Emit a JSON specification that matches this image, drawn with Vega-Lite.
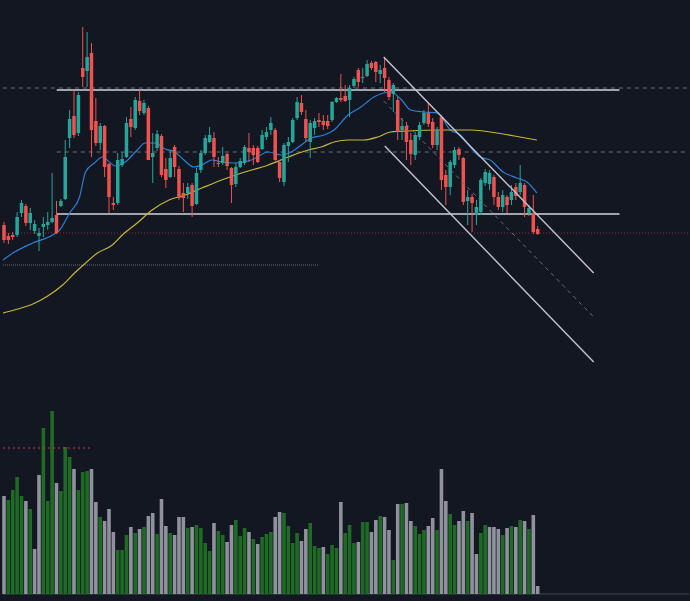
{
  "$schema": "https://vega.github.io/schema/vega-lite/v6.json",
  "width": 690,
  "height": 601,
  "autosize": {"type": "fit", "contains": "padding"},
  "padding": 0,
  "background": "#131722",
  "config": {"view": {"stroke": null}},
  "resolve": {"scale": {"y": "independent"}},
  "datasets": {
    "candles": [
      {"i":0,"o":376,"h":379,"l":358,"c":361,"v":98,"u":0},
      {"i":1,"o":365,"h":368,"l":357,"c":361,"v":94,"u":1},
      {"i":2,"o":366,"h":369,"l":361,"c":364,"v":104,"u":1},
      {"i":3,"o":366,"h":389,"l":364,"c":384,"v":117,"u":1},
      {"i":4,"o":388,"h":401,"l":384,"c":398,"v":98,"u":1},
      {"i":5,"o":395,"h":397,"l":375,"c":378,"v":93,"u":0},
      {"i":6,"o":378,"h":393,"l":371,"c":388,"v":85,"u":1},
      {"i":7,"o":370,"h":381,"l":367,"c":377,"v":45,"u":0},
      {"i":8,"o":365,"h":373,"l":350,"c":368,"v":119,"u":0},
      {"i":9,"o":374,"h":384,"l":364,"c":377,"v":166,"u":1},
      {"i":10,"o":376,"h":389,"l":371,"c":379,"v":93,"u":1},
      {"i":11,"o":379,"h":428,"l":378,"c":383,"v":183,"u":1},
      {"i":12,"o":386,"h":400,"l":367,"c":368,"v":111,"u":0},
      {"i":13,"o":395,"h":402,"l":394,"c":400,"v":103,"u":1},
      {"i":14,"o":402,"h":461,"l":401,"c":444,"v":147,"u":1},
      {"i":15,"o":463,"h":491,"l":453,"c":482,"v":137,"u":1},
      {"i":16,"o":485,"h":511,"l":463,"c":466,"v":125,"u":0},
      {"i":17,"o":468,"h":509,"l":465,"c":506,"v":104,"u":1},
      {"i":18,"o":533,"h":574,"l":514,"c":524,"v":122,"u":1},
      {"i":19,"o":530,"h":569,"l":514,"c":544,"v":123,"u":1},
      {"i":20,"o":548,"h":558,"l":444,"c":471,"v":125,"u":0},
      {"i":21,"o":480,"h":503,"l":455,"c":458,"v":92,"u":0},
      {"i":22,"o":458,"h":478,"l":451,"c":475,"v":77,"u":1},
      {"i":23,"o":475,"h":476,"l":424,"c":434,"v":73,"u":0},
      {"i":24,"o":437,"h":438,"l":388,"c":404,"v":85,"u":0},
      {"i":25,"o":398,"h":404,"l":391,"c":396,"v":62,"u":0},
      {"i":26,"o":398,"h":448,"l":396,"c":441,"v":44,"u":1},
      {"i":27,"o":436,"h":449,"l":434,"c":442,"v":44,"u":1},
      {"i":28,"o":444,"h":484,"l":443,"c":478,"v":59,"u":1},
      {"i":29,"o":482,"h":494,"l":464,"c":474,"v":67,"u":0},
      {"i":30,"o":473,"h":504,"l":471,"c":501,"v":61,"u":1},
      {"i":31,"o":500,"h":511,"l":486,"c":490,"v":65,"u":0},
      {"i":32,"o":488,"h":501,"l":486,"c":498,"v":67,"u":1},
      {"i":33,"o":493,"h":495,"l":441,"c":441,"v":78,"u":0},
      {"i":34,"o":444,"h":468,"l":418,"c":448,"v":81,"u":0},
      {"i":35,"o":453,"h":471,"l":450,"c":467,"v":60,"u":1},
      {"i":36,"o":465,"h":467,"l":424,"c":426,"v":95,"u":0},
      {"i":37,"o":432,"h":443,"l":413,"c":421,"v":68,"u":0},
      {"i":38,"o":424,"h":451,"l":423,"c":443,"v":61,"u":1},
      {"i":39,"o":454,"h":456,"l":424,"c":434,"v":59,"u":0},
      {"i":40,"o":432,"h":435,"l":401,"c":403,"v":77,"u":0},
      {"i":41,"o":408,"h":418,"l":389,"c":403,"v":77,"u":0},
      {"i":42,"o":408,"h":418,"l":402,"c":414,"v":66,"u":1},
      {"i":43,"o":416,"h":418,"l":384,"c":395,"v":67,"u":0},
      {"i":44,"o":397,"h":433,"l":396,"c":428,"v":69,"u":1},
      {"i":45,"o":431,"h":451,"l":428,"c":448,"v":66,"u":1},
      {"i":46,"o":448,"h":466,"l":446,"c":463,"v":51,"u":1},
      {"i":47,"o":459,"h":474,"l":458,"c":466,"v":43,"u":1},
      {"i":48,"o":463,"h":469,"l":434,"c":444,"v":71,"u":0},
      {"i":49,"o":438,"h":444,"l":434,"c":437,"v":63,"u":1},
      {"i":50,"o":438,"h":454,"l":436,"c":445,"v":59,"u":1},
      {"i":51,"o":447,"h":448,"l":431,"c":435,"v":52,"u":0},
      {"i":52,"o":433,"h":434,"l":398,"c":416,"v":69,"u":0},
      {"i":53,"o":417,"h":438,"l":414,"c":434,"v":74,"u":1},
      {"i":54,"o":434,"h":443,"l":433,"c":440,"v":58,"u":1},
      {"i":55,"o":438,"h":456,"l":436,"c":454,"v":66,"u":1},
      {"i":56,"o":453,"h":468,"l":439,"c":449,"v":62,"u":0},
      {"i":57,"o":453,"h":456,"l":436,"c":446,"v":55,"u":1},
      {"i":58,"o":453,"h":455,"l":438,"c":439,"v":50,"u":0},
      {"i":59,"o":452,"h":471,"l":451,"c":466,"v":57,"u":1},
      {"i":60,"o":464,"h":474,"l":461,"c":469,"v":60,"u":1},
      {"i":61,"o":471,"h":484,"l":466,"c":478,"v":62,"u":1},
      {"i":62,"o":471,"h":473,"l":440,"c":441,"v":77,"u":0},
      {"i":63,"o":439,"h":441,"l":419,"c":423,"v":82,"u":0},
      {"i":64,"o":419,"h":458,"l":415,"c":456,"v":81,"u":1},
      {"i":65,"o":455,"h":464,"l":439,"c":459,"v":68,"u":1},
      {"i":66,"o":459,"h":483,"l":458,"c":481,"v":51,"u":1},
      {"i":67,"o":483,"h":504,"l":481,"c":499,"v":61,"u":1},
      {"i":68,"o":498,"h":506,"l":486,"c":489,"v":53,"u":0},
      {"i":69,"o":482,"h":491,"l":459,"c":463,"v":65,"u":0},
      {"i":70,"o":459,"h":481,"l":443,"c":478,"v":71,"u":1},
      {"i":71,"o":473,"h":483,"l":466,"c":480,"v":48,"u":1},
      {"i":72,"o":481,"h":488,"l":474,"c":479,"v":46,"u":1},
      {"i":73,"o":480,"h":486,"l":471,"c":476,"v":47,"u":0},
      {"i":74,"o":480,"h":486,"l":472,"c":475,"v":40,"u":1},
      {"i":75,"o":481,"h":500,"l":479,"c":499,"v":49,"u":1},
      {"i":76,"o":499,"h":504,"l":498,"c":503,"v":46,"u":1},
      {"i":77,"o":503,"h":527,"l":499,"c":501,"v":92,"u":0},
      {"i":78,"o":505,"h":516,"l":499,"c":500,"v":61,"u":1},
      {"i":79,"o":501,"h":516,"l":484,"c":513,"v":69,"u":1},
      {"i":80,"o":515,"h":524,"l":513,"c":522,"v":51,"u":1},
      {"i":81,"o":531,"h":533,"l":514,"c":519,"v":52,"u":0},
      {"i":82,"o":523,"h":533,"l":518,"c":524,"v":72,"u":1},
      {"i":83,"o":525,"h":541,"l":524,"c":537,"v":72,"u":1},
      {"i":84,"o":538,"h":540,"l":531,"c":533,"v":62,"u":0},
      {"i":85,"o":539,"h":540,"l":519,"c":529,"v":74,"u":0},
      {"i":86,"o":527,"h":536,"l":518,"c":531,"v":78,"u":1},
      {"i":87,"o":533,"h":544,"l":509,"c":523,"v":77,"u":0},
      {"i":88,"o":521,"h":524,"l":501,"c":504,"v":64,"u":0},
      {"i":89,"o":507,"h":518,"l":489,"c":516,"v":34,"u":1},
      {"i":90,"o":501,"h":504,"l":461,"c":469,"v":90,"u":0},
      {"i":91,"o":471,"h":483,"l":461,"c":475,"v":90,"u":1},
      {"i":92,"o":475,"h":479,"l":441,"c":459,"v":91,"u":0},
      {"i":93,"o":461,"h":468,"l":436,"c":447,"v":73,"u":0},
      {"i":94,"o":446,"h":469,"l":441,"c":466,"v":68,"u":1},
      {"i":95,"o":464,"h":479,"l":461,"c":476,"v":60,"u":1},
      {"i":96,"o":478,"h":491,"l":476,"c":488,"v":64,"u":1},
      {"i":97,"o":488,"h":498,"l":474,"c":477,"v":68,"u":0},
      {"i":98,"o":479,"h":483,"l":453,"c":456,"v":76,"u":0},
      {"i":99,"o":456,"h":474,"l":451,"c":471,"v":64,"u":1},
      {"i":100,"o":484,"h":486,"l":411,"c":421,"v":125,"u":0},
      {"i":101,"o":426,"h":431,"l":396,"c":414,"v":93,"u":0},
      {"i":102,"o":414,"h":441,"l":406,"c":439,"v":80,"u":1},
      {"i":103,"o":436,"h":454,"l":433,"c":451,"v":69,"u":1},
      {"i":104,"o":452,"h":454,"l":441,"c":446,"v":73,"u":0},
      {"i":105,"o":443,"h":444,"l":396,"c":399,"v":83,"u":0},
      {"i":106,"o":400,"h":411,"l":376,"c":404,"v":73,"u":1},
      {"i":107,"o":404,"h":407,"l":369,"c":398,"v":81,"u":0},
      {"i":108,"o":386,"h":401,"l":376,"c":394,"v":40,"u":0},
      {"i":109,"o":389,"h":423,"l":386,"c":421,"v":61,"u":1},
      {"i":110,"o":418,"h":432,"l":415,"c":429,"v":69,"u":1},
      {"i":111,"o":417,"h":431,"l":411,"c":428,"v":67,"u":0},
      {"i":112,"o":424,"h":426,"l":396,"c":404,"v":67,"u":0},
      {"i":113,"o":404,"h":409,"l":391,"c":394,"v":65,"u":0},
      {"i":114,"o":394,"h":411,"l":389,"c":406,"v":59,"u":1},
      {"i":115,"o":404,"h":406,"l":388,"c":396,"v":66,"u":0},
      {"i":116,"o":401,"h":416,"l":396,"c":409,"v":68,"u":1},
      {"i":117,"o":414,"h":418,"l":401,"c":405,"v":67,"u":0},
      {"i":118,"o":409,"h":436,"l":406,"c":418,"v":74,"u":1},
      {"i":119,"o":416,"h":418,"l":384,"c":394,"v":73,"u":0},
      {"i":120,"o":388,"h":396,"l":385,"c":393,"v":65,"u":1},
      {"i":121,"o":388,"h":406,"l":367,"c":369,"v":79,"u":0},
      {"i":122,"o":372,"h":375,"l":366,"c":367,"v":8,"u":0}
    ],
    "ma": [
      {"s":"MA20","i":-0.23,"p":341},{"s":"MA20","i":2.05,"p":348},{"s":"MA20","i":6.59,"p":358},
      {"s":"MA20","i":11.14,"p":366},{"s":"MA20","i":12.73,"p":371},{"s":"MA20","i":15.0,"p":388},
      {"s":"MA20","i":17.27,"p":404},{"s":"MA20","i":18.64,"p":429},{"s":"MA20","i":20.68,"p":438},
      {"s":"MA20","i":22.5,"p":444},{"s":"MA20","i":24.09,"p":439},{"s":"MA20","i":25.45,"p":435},
      {"s":"MA20","i":27.73,"p":439},{"s":"MA20","i":30.45,"p":451},{"s":"MA20","i":32.27,"p":458},
      {"s":"MA20","i":34.55,"p":458},{"s":"MA20","i":36.82,"p":452},{"s":"MA20","i":39.09,"p":449},
      {"s":"MA20","i":41.14,"p":441},{"s":"MA20","i":43.41,"p":434},{"s":"MA20","i":45.23,"p":436},
      {"s":"MA20","i":47.5,"p":441},{"s":"MA20","i":49.77,"p":439},{"s":"MA20","i":52.73,"p":438},
      {"s":"MA20","i":56.59,"p":441},{"s":"MA20","i":60.45,"p":449},{"s":"MA20","i":63.41,"p":446},
      {"s":"MA20","i":65.68,"p":449},{"s":"MA20","i":67.95,"p":456},{"s":"MA20","i":70.23,"p":463},
      {"s":"MA20","i":73.18,"p":466},{"s":"MA20","i":75.45,"p":471},{"s":"MA20","i":78.64,"p":486},
      {"s":"MA20","i":81.59,"p":494},{"s":"MA20","i":84.55,"p":504},{"s":"MA20","i":86.82,"p":508},
      {"s":"MA20","i":88.41,"p":509},{"s":"MA20","i":90.68,"p":502},{"s":"MA20","i":92.95,"p":491},
      {"s":"MA20","i":95.91,"p":489},{"s":"MA20","i":99.09,"p":488},{"s":"MA20","i":102.05,"p":471},
      {"s":"MA20","i":104.32,"p":466},{"s":"MA20","i":106.59,"p":454},{"s":"MA20","i":108.86,"p":444},
      {"s":"MA20","i":111.14,"p":441},{"s":"MA20","i":114.09,"p":429},{"s":"MA20","i":117.27,"p":423},
      {"s":"MA20","i":119.55,"p":419},{"s":"MA20","i":121.82,"p":408},
      {"s":"MA50","i":-0.23,"p":288},{"s":"MA50","i":3.18,"p":292},{"s":"MA50","i":6.59,"p":297},
      {"s":"MA50","i":10.0,"p":305},{"s":"MA50","i":13.41,"p":316},{"s":"MA50","i":16.14,"p":328},
      {"s":"MA50","i":18.41,"p":337},{"s":"MA50","i":21.36,"p":348},{"s":"MA50","i":24.77,"p":356},
      {"s":"MA50","i":27.05,"p":366},{"s":"MA50","i":30.45,"p":378},{"s":"MA50","i":33.86,"p":391},
      {"s":"MA50","i":37.73,"p":401},{"s":"MA50","i":41.36,"p":406},{"s":"MA50","i":45.23,"p":413},
      {"s":"MA50","i":49.77,"p":421},{"s":"MA50","i":54.32,"p":428},{"s":"MA50","i":60.45,"p":436},
      {"s":"MA50","i":65.0,"p":444},{"s":"MA50","i":69.55,"p":451},{"s":"MA50","i":72.5,"p":454},
      {"s":"MA50","i":75.45,"p":459},{"s":"MA50","i":78.64,"p":461},{"s":"MA50","i":82.27,"p":461},
      {"s":"MA50","i":85.45,"p":464},{"s":"MA50","i":88.41,"p":469},{"s":"MA50","i":92.27,"p":470},
      {"s":"MA50","i":99.09,"p":471},{"s":"MA50","i":106.59,"p":471},{"s":"MA50","i":114.09,"p":467},
      {"s":"MA50","i":117.95,"p":464},{"s":"MA50","i":121.82,"p":461}
    ],
    "dashedLevels": [
      {"a":-0.23,"b":156.6,"p":513},
      {"a":12.05,"b":156.6,"p":449}
    ],
    "solidLevels": [
      {"a":12.05,"b":140.7,"p":511},
      {"a":12.05,"b":140.7,"p":387}
    ],
    "priceLine": [{"a":-0.23,"b":156.6,"p":368}],
    "dottedLevel": [{"a":-0.23,"b":72.05,"p":336}],
    "volLevel": [{"a":-0.23,"b":19.77,"v":146}],
    "volBase": [{"a":-0.23,"b":156.6,"v":0}],
    "channel": [
      {"a":86.8,"pa":544,"b":134.8,"pb":328},
      {"a":87.05,"pa":455,"b":134.8,"pb":239}
    ],
    "channelMid": [{"a":86.8,"pa":500,"b":134.8,"pb":284}]
  },
  "layer": [
    {
      "data": {"name": "volBase"},
      "mark": {"type": "rule", "color": "#434651", "strokeWidth": 1},
      "encoding": {
        "x": {"field": "a", "type": "quantitative", "scale": {"domain": [-0.227, 156.59], "nice": false, "zero": false, "padding": 0}, "axis": null},
        "x2": {"field": "b"},
        "y": {"field": "v", "type": "quantitative", "scale": {"domain": [-7, 594], "nice": false, "zero": false, "padding": 0}, "axis": null}
      }
    },
    {
      "data": {"name": "candles"},
      "mark": {"type": "bar", "size": 3.6},
      "encoding": {
        "x": {"field": "i", "type": "quantitative", "scale": {"domain": [-0.227, 156.59], "nice": false, "zero": false, "padding": 0}, "axis": null},
        "y": {"field": "v", "type": "quantitative", "scale": {"domain": [-7, 594], "nice": false, "zero": false, "padding": 0}, "axis": null},
        "y2": {"datum": 0},
        "color": {"condition": {"test": "datum.u == 1", "value": "#1f6b25"}, "value": "#8f929c"}
      }
    },
    {
      "data": {"name": "volLevel"},
      "mark": {"type": "rule", "color": "#d23a3a", "strokeWidth": 1, "strokeDash": [2, 3]},
      "encoding": {
        "x": {"field": "a", "type": "quantitative", "scale": {"domain": [-0.227, 156.59], "nice": false, "zero": false, "padding": 0}, "axis": null},
        "x2": {"field": "b"},
        "y": {"field": "v", "type": "quantitative", "scale": {"domain": [-7, 594], "nice": false, "zero": false, "padding": 0}, "axis": null}
      }
    },
    {
      "data": {"name": "dashedLevels"},
      "mark": {"type": "rule", "color": "#6b6e79", "strokeWidth": 1, "strokeDash": [4, 4]},
      "encoding": {
        "x": {"field": "a", "type": "quantitative", "scale": {"domain": [-0.227, 156.59], "nice": false, "zero": false, "padding": 0}, "axis": null},
        "x2": {"field": "b"},
        "y": {"field": "p", "type": "quantitative", "scale": {"domain": [0, 601], "nice": false, "zero": false, "padding": 0}, "axis": null}
      }
    },
    {
      "data": {"name": "dottedLevel"},
      "mark": {"type": "rule", "color": "#6b6e79", "strokeWidth": 1, "strokeDash": [1, 1]},
      "encoding": {
        "x": {"field": "a", "type": "quantitative", "scale": {"domain": [-0.227, 156.59], "nice": false, "zero": false, "padding": 0}, "axis": null},
        "x2": {"field": "b"},
        "y": {"field": "p", "type": "quantitative", "scale": {"domain": [0, 601], "nice": false, "zero": false, "padding": 0}, "axis": null}
      }
    },
    {
      "data": {"name": "priceLine"},
      "mark": {"type": "rule", "color": "#8a2f38", "strokeWidth": 1, "strokeDash": [1, 2]},
      "encoding": {
        "x": {"field": "a", "type": "quantitative", "scale": {"domain": [-0.227, 156.59], "nice": false, "zero": false, "padding": 0}, "axis": null},
        "x2": {"field": "b"},
        "y": {"field": "p", "type": "quantitative", "scale": {"domain": [0, 601], "nice": false, "zero": false, "padding": 0}, "axis": null}
      }
    },
    {
      "data": {"name": "solidLevels"},
      "mark": {"type": "rule", "color": "#d1d4dc", "strokeWidth": 1.5},
      "encoding": {
        "x": {"field": "a", "type": "quantitative", "scale": {"domain": [-0.227, 156.59], "nice": false, "zero": false, "padding": 0}, "axis": null},
        "x2": {"field": "b"},
        "y": {"field": "p", "type": "quantitative", "scale": {"domain": [0, 601], "nice": false, "zero": false, "padding": 0}, "axis": null}
      }
    },
    {
      "data": {"name": "ma"},
      "mark": {"type": "line", "strokeWidth": 1.2, "interpolate": "monotone"},
      "encoding": {
        "x": {"field": "i", "type": "quantitative", "scale": {"domain": [-0.227, 156.59], "nice": false, "zero": false, "padding": 0}, "axis": null},
        "y": {"field": "p", "type": "quantitative", "scale": {"domain": [0, 601], "nice": false, "zero": false, "padding": 0}, "axis": null},
        "color": {"field": "s", "type": "nominal", "scale": {"domain": ["MA20", "MA50"], "range": ["#2d7fd6", "#c9b53b"]}, "legend": null}
      }
    },
    {
      "data": {"name": "candles"},
      "mark": {"type": "rule", "strokeWidth": 1},
      "encoding": {
        "x": {"field": "i", "type": "quantitative", "scale": {"domain": [-0.227, 156.59], "nice": false, "zero": false, "padding": 0}, "axis": null},
        "y": {"field": "l", "type": "quantitative", "scale": {"domain": [0, 601], "nice": false, "zero": false, "padding": 0}, "axis": null},
        "y2": {"field": "h"},
        "color": {"condition": {"test": "datum.c >= datum.o", "value": "#26a69a"}, "value": "#ef5350"}
      }
    },
    {
      "data": {"name": "candles"},
      "mark": {"type": "bar", "size": 3.5},
      "encoding": {
        "x": {"field": "i", "type": "quantitative", "scale": {"domain": [-0.227, 156.59], "nice": false, "zero": false, "padding": 0}, "axis": null},
        "y": {"field": "o", "type": "quantitative", "scale": {"domain": [0, 601], "nice": false, "zero": false, "padding": 0}, "axis": null},
        "y2": {"field": "c"},
        "color": {"condition": {"test": "datum.c >= datum.o", "value": "#26a69a"}, "value": "#ef5350"}
      }
    },
    {
      "data": {"name": "channel"},
      "mark": {"type": "rule", "color": "#c3c6ce", "strokeWidth": 1.4},
      "encoding": {
        "x": {"field": "a", "type": "quantitative", "scale": {"domain": [-0.227, 156.59], "nice": false, "zero": false, "padding": 0}, "axis": null},
        "x2": {"field": "b"},
        "y": {"field": "pa", "type": "quantitative", "scale": {"domain": [0, 601], "nice": false, "zero": false, "padding": 0}, "axis": null},
        "y2": {"field": "pb"}
      }
    },
    {
      "data": {"name": "channelMid"},
      "mark": {"type": "rule", "color": "#6b6e79", "strokeWidth": 1, "strokeDash": [4, 4]},
      "encoding": {
        "x": {"field": "a", "type": "quantitative", "scale": {"domain": [-0.227, 156.59], "nice": false, "zero": false, "padding": 0}, "axis": null},
        "x2": {"field": "b"},
        "y": {"field": "pa", "type": "quantitative", "scale": {"domain": [0, 601], "nice": false, "zero": false, "padding": 0}, "axis": null},
        "y2": {"field": "pb"}
      }
    }
  ]
}
